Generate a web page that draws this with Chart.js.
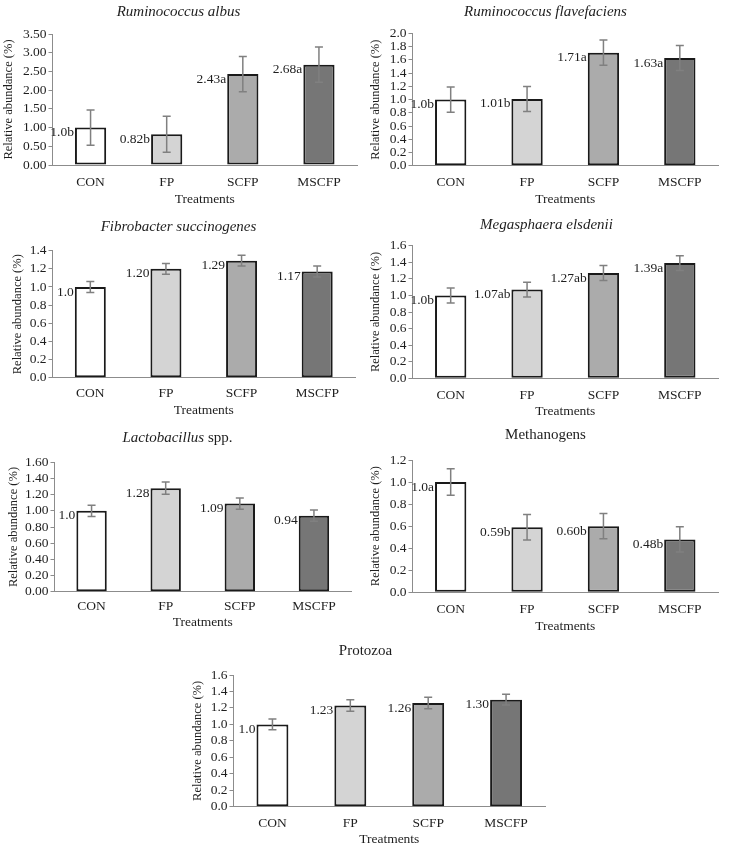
<!DOCTYPE html>
<html>
<head>
<meta charset="utf-8">
<script src="https://cdn.jsdelivr.net/npm/chart.js@4.4.1/dist/chart.umd.min.js"></script>
<style>
html, body { margin: 0; padding: 0; background: #fff; }
#page { position: relative; width: 730px; height: 847px; overflow: hidden; }
#page canvas { position: absolute; }
</style>
</head>
<body>
<div id="page"></div>
<script>
// Categories shared by all panels
const treatments = ['CON', 'FP', 'SCFP', 'MSCFP'];
const barColors = ['#ffffff', '#d4d4d4', '#ababab', '#767676'];

// Ruminococcus albus
const albusMean = [1.0, 0.82, 2.43, 2.68];
const albusSE = [0.47, 0.48, 0.47, 0.47];
const albusLabels = ['1.0b', '0.82b', '2.43a', '2.68a'];

// Ruminococcus flavefaciens
const flavMean = [1.0, 1.01, 1.71, 1.63];
const flavSE = [0.19, 0.19, 0.19, 0.19];
const flavLabels = ['1.0b', '1.01b', '1.71a', '1.63a'];

// Fibrobacter succinogenes
const fibroMean = [1.0, 1.20, 1.29, 1.17];
const fibroSE = [0.06, 0.06, 0.06, 0.06];
const fibroLabels = ['1.0', '1.20', '1.29', '1.17'];

// Megasphaera elsdenii
const megaMean = [1.0, 1.07, 1.27, 1.39];
const megaSE = [0.09, 0.09, 0.09, 0.09];
const megaLabels = ['1.0b', '1.07ab', '1.27ab', '1.39a'];

// Lactobacillus spp.
const lactoMean = [1.0, 1.28, 1.09, 0.94];
const lactoSE = [0.07, 0.075, 0.07, 0.07];
const lactoLabels = ['1.0', '1.28', '1.09', '0.94'];

// Methanogens
const methMean = [1.0, 0.59, 0.60, 0.48];
const methSE = [0.12, 0.115, 0.115, 0.115];
const methLabels = ['1.0a', '0.59b', '0.60b', '0.48b'];

// Protozoa
const protoMean = [1.0, 1.23, 1.26, 1.30];
const protoSE = [0.065, 0.07, 0.07, 0.065];
const protoLabels = ['1.0', '1.23', '1.26', '1.30'];

const FONT = '"Liberation Serif", "Times New Roman", serif';
const TEXT = '#1e1e1e';
const AXIS = '#8c8c8c';

// Layout of each panel (page pixels): plot = [left, top, right, bottom]
const panels = [
    { title: [['Ruminococcus albus', true]], mean: albusMean, se: albusSE, labels: albusLabels,
      max: 3.5, step: 0.5, dec: 2, top: 0, plot: [52, 34, 356, 165], titleAt: [178, 12], yTitleX: 8, xTitleY: 200, catY: 181.7 },
    { title: [['Ruminococcus flavefaciens', true]], mean: flavMean, se: flavSE, labels: flavLabels,
      max: 2.0, step: 0.2, dec: 1, top: 0, plot: [412, 33.5, 717, 165.7], titleAt: [545, 12], yTitleX: 375, xTitleY: 200, catY: 181.7 },
    { title: [['Fibrobacter succinogenes', true]], mean: fibroMean, se: fibroSE, labels: fibroLabels,
      max: 1.4, step: 0.2, dec: 1, top: 210, plot: [52, 250.7, 354, 377.7], titleAt: [178, 227], yTitleX: 17, xTitleY: 411, catY: 392.7 },
    { title: [['Megasphaera elsdenii', true]], mean: megaMean, se: megaSE, labels: megaLabels,
      max: 1.6, step: 0.2, dec: 1, top: 210, plot: [412, 245.7, 717, 378.3], titleAt: [546, 225], yTitleX: 375, xTitleY: 411.7, catY: 394 },
    { title: [['Lactobacillus', true], [' spp.', false]], mean: lactoMean, se: lactoSE, labels: lactoLabels,
      max: 1.6, step: 0.2, dec: 2, top: 420, plot: [54, 462.3, 350, 591.7], titleAt: [177, 438], yTitleX: 13, xTitleY: 623, catY: 605 },
    { title: [['Methanogens', false]], mean: methMean, se: methSE, labels: methLabels,
      max: 1.2, step: 0.2, dec: 1, top: 420, plot: [412, 460, 717, 592.3], titleAt: [545, 435], yTitleX: 375, xTitleY: 627, catY: 608 },
    { title: [['Protozoa', false]], mean: protoMean, se: protoSE, labels: protoLabels,
      max: 1.6, step: 0.2, dec: 1, top: 630, plot: [233, 675, 544, 806.7], titleAt: [365, 651], yTitleX: 197, xTitleY: 840, catY: 822.7 }
];

// Titulo, barras de error y etiquetas de valor
const panelDecor = {
    id: 'panelDecor',
    afterDatasetsDraw(chart, args, opts) {
        const p = opts.panel;
        const ctx = chart.ctx;
        const y = chart.scales.y;
        const meta = chart.getDatasetMeta(0);

        // error bars
        ctx.save();
        ctx.strokeStyle = '#808080';
        ctx.lineWidth = 1.5;
        meta.data.forEach((bar, i) => {
            const yHi = y.getPixelForValue(p.mean[i] + p.se[i]);
            const yLo = y.getPixelForValue(p.mean[i] - p.se[i]);
            ctx.beginPath();
            ctx.moveTo(bar.x, yHi); ctx.lineTo(bar.x, yLo);
            ctx.moveTo(bar.x - 4, yHi); ctx.lineTo(bar.x + 4, yHi);
            ctx.moveTo(bar.x - 4, yLo); ctx.lineTo(bar.x + 4, yLo);
            ctx.stroke();
        });

        // value labels, left of each bar top
        ctx.fillStyle = TEXT;
        ctx.font = '13.5px ' + FONT;
        ctx.textAlign = 'right';
        ctx.textBaseline = 'middle';
        meta.data.forEach((bar, i) => {
            ctx.fillText(p.labels[i], bar.x - bar.width / 2 - 1, bar.y + 5);
        });

        // panel title (mixed italic / roman parts)
        const cx = p.titleAt[0] - opts.ox;
        const cy = p.titleAt[1] - opts.oy;
        const fonts = p.title.map(t => (t[1] ? 'italic ' : '') + '15px ' + FONT);
        let total = 0;
        p.title.forEach((t, k) => { ctx.font = fonts[k]; total += ctx.measureText(t[0]).width; });
        let x = cx - total / 2;
        ctx.textAlign = 'left';
        p.title.forEach((t, k) => {
            ctx.font = fonts[k];
            ctx.fillText(t[0], x, cy);
            x += ctx.measureText(t[0]).width;
        });
        ctx.restore();
    }
};

const page = document.getElementById('page');

panels.forEach(p => {
    const [xL, yT, xR, yB] = p.plot;
    const left = p.yTitleX - 7.5;
    const top = p.top;
    const right = xR + 10;
    const bottom = p.xTitleY + 10;
    const w = Math.round(right - left);
    const h = Math.round(bottom - top);

    const canvas = document.createElement('canvas');
    canvas.width = w;
    canvas.height = h;
    canvas.style.left = left + 'px';
    canvas.style.top = top + 'px';
    canvas.style.width = w + 'px';
    canvas.style.height = h + 'px';
    page.appendChild(canvas);

    new Chart(canvas.getContext('2d'), {
        type: 'bar',
        data: {
            labels: treatments,
            datasets: [{
                data: p.mean,
                backgroundColor: barColors,
                borderColor: '#1a1a1a',
                borderWidth: 2,
                borderSkipped: false,
                barPercentage: 0.41,
                categoryPercentage: 1.0
            }]
        },
        options: {
            responsive: false,
            animation: false,
            devicePixelRatio: 1,
            layout: {
                padding: { left: 0, top: yT - top, right: right - xR, bottom: 0 }
            },
            plugins: {
                legend: { display: false },
                tooltip: { enabled: false },
                panelDecor: { panel: p, ox: left, oy: top }
            },
            scales: {
                x: {
                    afterFit: s => { s.height = h - (yB - top); },
                    grid: { display: false, drawTicks: false },
                    border: { display: true, color: AXIS, width: 1 },
                    ticks: { color: TEXT, font: { family: FONT, size: 13.5 }, padding: p.catY - 7 - yB },
                    title: {
                        display: true, text: 'Treatments', color: TEXT,
                        font: { family: FONT, size: 13.5 },
                        padding: { top: 0, bottom: bottom - p.xTitleY - 8 }
                    }
                },
                y: {
                    min: 0,
                    max: p.max,
                    afterFit: s => { s.width = xL - left; },
                    grid: { drawOnChartArea: false, drawTicks: true, tickLength: 4, color: AXIS },
                    border: { display: true, color: AXIS, width: 1 },
                    ticks: {
                        stepSize: p.step,
                        autoSkip: false,
                        color: TEXT,
                        padding: 2,
                        font: { family: FONT, size: 13.5 },
                        callback: v => Number(v).toFixed(p.dec)
                    },
                    title: {
                        display: true, text: 'Relative abundance (%)', color: TEXT,
                        font: { family: FONT, size: 12.5, lineHeight: 1.2 },
                        padding: { top: 0, bottom: 0 }
                    }
                }
            }
        },
        plugins: [panelDecor]
    });
});
</script>
</body>
</html>
